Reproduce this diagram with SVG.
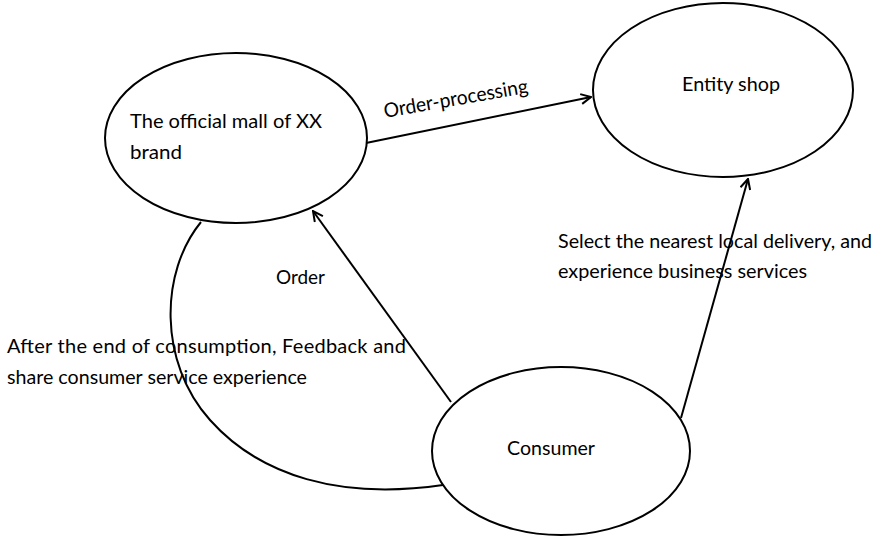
<svg xmlns="http://www.w3.org/2000/svg" width="876" height="537" viewBox="0 0 876 537">
  <defs>
    <style>
      .node { fill: #ffffff; stroke: #000000; stroke-width: 2; }
      .edge { fill: none; stroke: #000000; stroke-width: 2; }
      .lbl { font-family: Lato, "Liberation Sans", sans-serif; font-size: 20px; fill: #000000; }
    </style>
    <marker id="open-arrow" viewBox="0 0 12 12" refX="11" refY="6" markerWidth="12" markerHeight="12" markerUnits="userSpaceOnUse" orient="auto">
      <path d="M1,1 L11,6 L1,11" fill="none" stroke="#000" stroke-width="2"/>
    </marker>
  </defs>
  <rect width="876" height="537" fill="#ffffff"/>

  <!-- connectors -->
  <g id="connectors">
    <path class="edge" d="M201,222 C160,272 158,362 210,420 C260,476 340,500 443,485"/>
    <line class="edge" x1="366" y1="143" x2="591" y2="97" marker-end="url(#open-arrow)"/>
    <line class="edge" x1="451" y1="402" x2="313" y2="211" marker-end="url(#open-arrow)"/>
    <line class="edge" x1="681" y1="418" x2="748" y2="179" marker-end="url(#open-arrow)"/>
  </g>

  <!-- nodes -->
  <g id="node-mall">
    <ellipse class="node" cx="236" cy="138" rx="131" ry="85"/>
    <text class="lbl" x="130" y="128" textLength="192" lengthAdjust="spacingAndGlyphs">The official mall of XX</text>
    <text class="lbl" x="130" y="159" textLength="52" lengthAdjust="spacingAndGlyphs">brand</text>
  </g>
  <g id="node-shop">
    <ellipse class="node" cx="723" cy="90" rx="130" ry="87"/>
    <text class="lbl" x="682" y="91" textLength="98" lengthAdjust="spacingAndGlyphs">Entity shop</text>
  </g>
  <g id="node-consumer">
    <ellipse class="node" cx="561" cy="451" rx="129" ry="84"/>
    <text class="lbl" x="507" y="455" textLength="88" lengthAdjust="spacingAndGlyphs">Consumer</text>
  </g>

  <!-- edge labels -->
  <g id="labels">
    <text class="lbl" x="385" y="118" transform="rotate(-10 385 118)" textLength="146" lengthAdjust="spacingAndGlyphs">Order-processing</text>
    <text class="lbl" x="276" y="284" textLength="49" lengthAdjust="spacingAndGlyphs">Order</text>
    <text class="lbl" x="7" y="353" textLength="399" lengthAdjust="spacing">After the end of consumption, Feedback and</text>
    <text class="lbl" x="7" y="384" textLength="300" lengthAdjust="spacingAndGlyphs">share consumer service experience</text>
    <text class="lbl" x="558" y="248" textLength="314" lengthAdjust="spacingAndGlyphs">Select the nearest local delivery, and</text>
    <text class="lbl" x="558" y="278" textLength="249" lengthAdjust="spacingAndGlyphs">experience business services</text>
  </g>
</svg>
